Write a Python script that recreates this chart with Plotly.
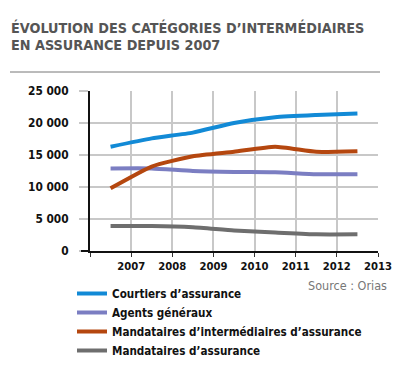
import plotly.graph_objects as go

# ---- data ----
periodes = [2006.5, 2007.5, 2008.5, 2009.5, 2010.5, 2011.5, 2012.5]
courtiers = [16300, 17600, 18500, 20000, 20900, 21250, 21500]
agents = [12900, 12900, 12500, 12350, 12300, 12000, 12000]
mandataires_interm = [9800, 13200, 14800, 15500, 16300, 15500, 15600]
mandataires = [3900, 3900, 3700, 3200, 2900, 2600, 2600]

series_noms = [
    "Courtiers d’assurance",
    "Agents généraux",
    "Mandataires d’intermédiaires d’assurance",
    "Mandataires d’assurance",
]
series_vals = [courtiers, agents, mandataires_interm, mandataires]
couleurs = ["#128ad6", "#7b7ec2", "#b5470f", "#6e6e6e"]

x_ticks = [2006, 2007, 2008, 2009, 2010, 2011, 2012, 2013]
x_labels = ["", "2007", "2008", "2009", "2010", "2011", "2012", "2013"]
y_ticks = [0, 5000, 10000, 15000, 20000, 25000]

titre1 = "ÉVOLUTION DES CATÉGORIES D’INTERMÉDIAIRES"
titre2 = "EN ASSURANCE DEPUIS 2007"
source = "Source : Orias"

FONT = "DejaVu Sans Condensed"


def f(size, color="#111", bold=True):
    return dict(family=FONT, size=size, color=color,
                weight="bold" if bold else "normal")


fig = go.Figure()
for nom, vals, c in zip(series_noms, series_vals, couleurs):
    fig.add_trace(go.Scatter(
        x=periodes, y=vals, name=nom, mode="lines",
        line=dict(color=c, width=4, shape="spline", smoothing=0.5),
    ))

PW = 288  # plot width in px
PH = 160  # plot height in px
fig.update_layout(
    width=397, height=368,
    margin=dict(l=82, r=27, t=83, b=125, autoexpand=False),
    paper_bgcolor="white", plot_bgcolor="white",
    separators=", ",
    font=f(12),
    showlegend=True,
    legend=dict(
        x=-18 / PW, xanchor="left", y=-28 / PH, yanchor="top",
        font=f(11.6),
        bgcolor="rgba(0,0,0,0)", tracegroupgap=0, itemwidth=30,
    ),
    xaxis=dict(
        range=[2006, 2013], tickvals=x_ticks, ticktext=x_labels,
        showgrid=True, gridcolor="#c8c8c8", gridwidth=1.5,
        showline=True, linecolor="#111", linewidth=2,
        ticks="outside", ticklen=4, tickcolor="#333", tickwidth=1,
        tickfont=f(11.2),
        zeroline=False, fixedrange=True,
    ),
    yaxis=dict(
        range=[0, 25000], tickvals=y_ticks, tickformat=",.0f",
        showgrid=True, gridcolor="#c8c8c8", gridwidth=1.5,
        showline=True, linecolor="#111", linewidth=2,
        ticks="outside", ticklen=9, tickcolor="#c8c8c8", tickwidth=1.5,
        ticklabelstandoff=8,
        tickfont=f(11.8),
        zeroline=False, fixedrange=True,
    ),
)

# extension of the x axis line to the left of the y axis
fig.add_shape(type="line", xref="paper", yref="paper",
              x0=-9 / PW, x1=0, y0=0, y1=0,
              line=dict(color="#111", width=2))

# title
fig.add_annotation(text=titre1, xref="paper", yref="paper",
                   x=-81 / PW, y=1 + 63 / PH, xanchor="left", yanchor="middle",
                   showarrow=False, font=f(14.3, "#555"))
fig.add_annotation(text=titre2, xref="paper", yref="paper",
                   x=-81 / PW, y=1 + 46 / PH, xanchor="left", yanchor="middle",
                   showarrow=False, font=f(14.3, "#555"))
# rule under title
fig.add_shape(type="line", xref="paper", yref="paper",
              x0=-80 / PW, x1=1 + 2 / PW, y0=1 + 19 / PH, y1=1 + 19 / PH,
              line=dict(color="#777", width=1))

# source
fig.add_annotation(text=source, xref="paper", yref="paper",
                   x=1 + 11 / PW, y=-34 / PH, xanchor="right", yanchor="middle",
                   showarrow=False, font=f(12.5, "#777", bold=False))

fig.write_html("out.html")
